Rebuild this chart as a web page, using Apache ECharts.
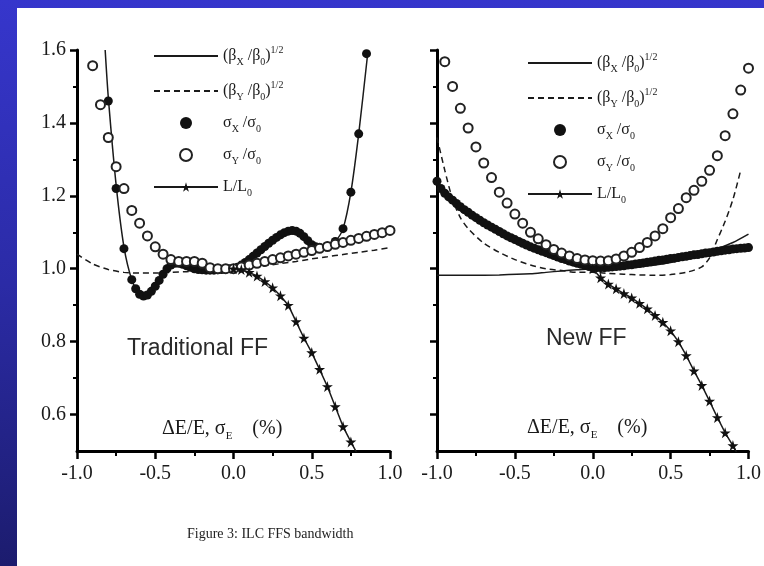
<!DOCTYPE html>
<html>
<head>
<meta charset="utf-8">
<script src="https://cdn.jsdelivr.net/npm/echarts@6/dist/echarts.min.js"></script>
<style>
html, body { margin: 0; padding: 0; width: 764px; height: 566px; overflow: hidden; }
#frame { position: absolute; left: 0; top: 0; width: 764px; height: 566px;
  background: linear-gradient(to bottom, #3636cc 0%, #2b2ba6 50%, #1c1c6e 100%); }
#sheet { position: absolute; left: 17px; top: 8px; width: 747px; height: 558px; background: #fff; }
#chart { position: absolute; left: 0; top: 0; width: 764px; height: 566px; }
</style>
</head>
<body>
<div id="frame"></div>
<div id="sheet"></div>
<div id="chart"></div>
<script>
// ---- axis ticks ----
const xMajorTicks = [-1.0, -0.5, 0.0, 0.5, 1.0];
const yMajorTicks = [0.6, 0.8, 1.0, 1.2, 1.4, 1.6];
const yMinorTicks = [0.7, 0.9, 1.1, 1.3, 1.5];

// ---- Traditional FF ----
const tradBxX = [-0.82, -0.80, -0.75, -0.70, -0.65, -0.60, -0.55, -0.50, -0.45, -0.40, -0.35, -0.30, -0.20, -0.10, 0.00, 0.10, 0.20, 0.30, 0.35, 0.40, 0.45, 0.50, 0.55, 0.60, 0.65, 0.70, 0.75, 0.80, 0.86];
const tradBxY = [1.60, 1.47, 1.23, 1.06, 0.97, 0.93, 0.928, 0.952, 0.985, 1.01, 1.015, 1.008, 0.997, 0.997, 1.0, 1.025, 1.061, 1.093, 1.103, 1.103, 1.088, 1.066, 1.058, 1.062, 1.075, 1.11, 1.21, 1.37, 1.60];

const tradByX = [-1.0, -0.9, -0.8, -0.7, -0.6, -0.5, -0.4, -0.3, -0.2, -0.1, 0.0, 0.1, 0.2, 0.3, 0.4, 0.5, 0.6, 0.7, 0.8, 0.9, 1.0];
const tradByY = [1.04, 1.013, 0.998, 0.99, 0.988, 0.988, 0.99, 0.992, 0.995, 0.998, 1.0, 1.004, 1.008, 1.014, 1.02, 1.027, 1.033, 1.039, 1.045, 1.051, 1.058];

const tradSxX = [-0.80, -0.75, -0.70, -0.65,
  -0.625, -0.600, -0.575, -0.550, -0.525, -0.500, -0.475, -0.450, -0.425, -0.400,
  -0.375, -0.350, -0.325, -0.300, -0.275, -0.250, -0.225, -0.200, -0.175, -0.150,
  -0.125, -0.100, -0.075, -0.050, -0.025, 0.000, 0.025, 0.050, 0.075, 0.100,
  0.125, 0.150, 0.175, 0.200, 0.225, 0.250, 0.275, 0.300, 0.325, 0.350,
  0.375, 0.400, 0.425, 0.450, 0.475, 0.500, 0.525, 0.550,
  0.60, 0.65, 0.70, 0.75, 0.80, 0.85];
const tradSxY = [1.46, 1.22, 1.055, 0.97,
  0.945, 0.93, 0.925, 0.928, 0.938, 0.952, 0.968, 0.985, 1.0, 1.01,
  1.015, 1.015, 1.012, 1.008, 1.004, 1.0, 0.998, 0.997, 0.996, 0.996,
  0.996, 0.997, 0.998, 0.999, 1.0, 1.0, 1.004, 1.01, 1.017, 1.025,
  1.034, 1.043, 1.052, 1.061, 1.07, 1.078, 1.086, 1.093, 1.099, 1.103,
  1.105, 1.103, 1.097, 1.088, 1.077, 1.066, 1.06, 1.058,
  1.062, 1.075, 1.11, 1.21, 1.37, 1.59];

const tradSyX = [-0.90, -0.85, -0.80, -0.75, -0.70, -0.65, -0.60, -0.55, -0.50, -0.45,
  -0.40, -0.35, -0.30, -0.25, -0.20, -0.15, -0.10, -0.05, 0.00, 0.05,
  0.10, 0.15, 0.20, 0.25, 0.30, 0.35, 0.40, 0.45, 0.50, 0.55,
  0.60, 0.65, 0.70, 0.75, 0.80, 0.85, 0.90, 0.95, 1.00];
const tradSyY = [1.557, 1.45, 1.36, 1.28, 1.22, 1.16, 1.125, 1.09, 1.06, 1.04,
  1.025, 1.02, 1.02, 1.02, 1.015, 1.003, 1.0, 1.0, 1.0, 1.005,
  1.01, 1.015, 1.02, 1.025, 1.03, 1.035, 1.04, 1.045, 1.05, 1.056,
  1.061, 1.067, 1.072, 1.078, 1.083, 1.089, 1.094, 1.099, 1.105];

const tradLumX = [0.00, 0.05, 0.10, 0.15, 0.20, 0.25, 0.30, 0.35, 0.40, 0.45, 0.50, 0.55, 0.60, 0.65, 0.70, 0.75, 0.80, 0.85];
const tradLumY = [1.0, 0.998, 0.99, 0.98, 0.965, 0.948, 0.926, 0.9, 0.855, 0.81, 0.77, 0.724, 0.677, 0.622, 0.567, 0.525, 0.485, 0.44];

// ---- New FF ----
const newBxX = [-1.0, -0.8, -0.6, -0.4, -0.3, -0.2, -0.1, 0.0, 0.1, 0.2, 0.3, 0.4, 0.5, 0.6, 0.7, 0.8, 0.9, 1.0];
const newBxY = [0.982, 0.982, 0.983, 0.986, 0.99, 0.994, 0.997, 1.0, 1.0, 1.002, 1.005, 1.01, 1.017, 1.027, 1.04, 1.055, 1.072, 1.095];

const newByX = [-1.0, -0.95, -0.9, -0.85, -0.8, -0.7, -0.6, -0.5, -0.4, -0.3, -0.2, -0.1, 0.0, 0.1, 0.2, 0.3, 0.4, 0.5, 0.6, 0.7, 0.75, 0.8, 0.85, 0.9, 0.95];
const newByY = [1.36, 1.27, 1.19, 1.14, 1.11, 1.07, 1.045, 1.025, 1.01, 1.0, 0.995, 0.99, 0.99, 0.987, 0.985, 0.983, 0.982, 0.984, 0.99, 1.005, 1.03, 1.08, 1.13, 1.19, 1.27];

const newSxX = [-1.000, -0.975, -0.950, -0.925, -0.900, -0.875, -0.850, -0.825, -0.800, -0.775,
  -0.750, -0.725, -0.700, -0.675, -0.650, -0.625, -0.600, -0.575, -0.550, -0.525,
  -0.500, -0.475, -0.450, -0.425, -0.400, -0.375, -0.350, -0.325, -0.300, -0.275,
  -0.250, -0.225, -0.200, -0.175, -0.150, -0.125, -0.100, -0.075, -0.050, -0.025,
  0.000, 0.025, 0.050, 0.075, 0.100, 0.125, 0.150, 0.175, 0.200, 0.225,
  0.250, 0.275, 0.300, 0.325, 0.350, 0.375, 0.400, 0.425, 0.450, 0.475,
  0.500, 0.525, 0.550, 0.575, 0.600, 0.625, 0.650, 0.675, 0.700, 0.725,
  0.750, 0.775, 0.800, 0.825, 0.850, 0.875, 0.900, 0.925, 0.950, 0.975, 1.000];
const newSxY = [1.24, 1.22, 1.207, 1.197, 1.188, 1.179, 1.17, 1.162, 1.155, 1.147,
  1.14, 1.133, 1.126, 1.12, 1.114, 1.108, 1.102, 1.096, 1.09, 1.085,
  1.08, 1.075, 1.07, 1.065, 1.06, 1.056, 1.052, 1.048, 1.044, 1.04,
  1.036, 1.032, 1.028, 1.025, 1.021, 1.018, 1.015, 1.012, 1.009, 1.006,
  1.004, 1.003, 1.003, 1.003, 1.004, 1.005, 1.006, 1.007, 1.008, 1.01,
  1.011, 1.013, 1.014, 1.016, 1.018, 1.019, 1.021, 1.023, 1.024, 1.026,
  1.028, 1.029, 1.031, 1.033, 1.034, 1.036, 1.038, 1.039, 1.041, 1.043,
  1.044, 1.046, 1.048, 1.049, 1.051, 1.052, 1.054, 1.055, 1.056, 1.057, 1.058];

const newSyX = [-0.95, -0.90, -0.85, -0.80, -0.75, -0.70, -0.65, -0.60, -0.55, -0.50,
  -0.45, -0.40, -0.35, -0.30, -0.25, -0.20, -0.15, -0.10, -0.05, 0.00,
  0.05, 0.10, 0.15, 0.20, 0.25, 0.30, 0.35, 0.40, 0.45, 0.50,
  0.55, 0.60, 0.65, 0.70, 0.75, 0.80, 0.85, 0.90, 0.95, 1.00];
const newSyY = [1.568, 1.50, 1.44, 1.386, 1.334, 1.29, 1.25, 1.21, 1.18, 1.15,
  1.125, 1.10, 1.082, 1.066, 1.053, 1.043, 1.035, 1.028, 1.024, 1.022,
  1.021, 1.022, 1.027, 1.035, 1.045, 1.058, 1.072, 1.09, 1.11, 1.14,
  1.165, 1.195, 1.215, 1.24, 1.27, 1.31, 1.365, 1.425, 1.49, 1.55];

const newLumX = [0.00, 0.05, 0.10, 0.15, 0.20, 0.25, 0.30, 0.35, 0.40, 0.45, 0.50, 0.55, 0.60, 0.65, 0.70, 0.75, 0.80, 0.85, 0.90, 0.95];
const newLumY = [1.0, 0.975, 0.958, 0.945, 0.932, 0.92, 0.905, 0.89, 0.872, 0.853, 0.83, 0.8, 0.762, 0.72, 0.68, 0.637, 0.592, 0.55, 0.515, 0.475];

// ---- legend entries ----
const seriesKeys = ['betaX', 'betaY', 'sigmaX', 'sigmaY', 'lumi'];
const legendLabels = {
  betaX: '{t|(β}{s|X}{t| /β}{s|0}{t|)}{u|1/2}',
  betaY: '{t|(β}{s|Y}{t| /β}{s|0}{t|)}{u|1/2}',
  sigmaX: '{t|σ}{s|X}{t| /σ}{s|0}',
  sigmaY: '{t|σ}{s|Y}{t| /σ}{s|0}',
  lumi: '{t|L/L}{s|0}'
};

const SERIF = '"Liberation Serif", "DejaVu Serif", serif';
const INK = '#1a1a1a';
const CLEAR = 'rgba(0,0,0,0)';
const starPath = 'path://M50,0 L61,35 L98,35 L68,57 L79,91 L50,70 L21,91 L32,57 L2,35 L39,35 Z';

const richText = {
  t: { fontFamily: SERIF, fontSize: 16, color: INK, lineHeight: 22 },
  s: { fontFamily: SERIF, fontSize: 10, color: INK, lineHeight: 10, verticalAlign: 'bottom' },
  u: { fontFamily: SERIF, fontSize: 10, color: INK, lineHeight: 10, verticalAlign: 'top' }
};

function zip(xs, ys) { return xs.map((x, i) => [x, ys[i]]); }

function panelSeries(gi, d) {
  const ax = { xAxisIndex: gi, yAxisIndex: gi * 2 };
  return [
    // plain curves: the transparent item colour keeps the legend swatch a bare line
    Object.assign({ name: 'betaX', type: 'line', data: zip(d.bxX, d.bxY), symbol: 'none', smooth: 0.25,
      lineStyle: { color: INK, width: 1.5 }, itemStyle: { color: CLEAR, borderWidth: 0 }, z: 2 }, ax),
    Object.assign({ name: 'betaY', type: 'line', data: zip(d.byX, d.byY), symbol: 'none', smooth: 0.25,
      lineStyle: { color: INK, width: 1.5, type: [6, 4] }, itemStyle: { color: CLEAR, borderWidth: 0 }, z: 2 }, ax),
    Object.assign({ name: 'sigmaX', type: 'scatter', data: zip(d.sxX, d.sxY), symbol: 'circle', symbolSize: 9,
      itemStyle: { color: '#111', opacity: 1 }, z: 3 }, ax),
    Object.assign({ name: 'sigmaY', type: 'scatter', data: zip(d.syX, d.syY), symbol: 'circle', symbolSize: 9,
      itemStyle: { color: '#fff', borderColor: '#222', borderWidth: 2, opacity: 1 }, z: 4 }, ax),
    Object.assign({ name: 'lumi', type: 'line', data: zip(d.lmX, d.lmY), symbol: starPath, symbolSize: 11,
      showAllSymbol: true, lineStyle: { color: INK, width: 1.5 }, itemStyle: { color: '#111' }, z: 5 }, ax)
  ];
}

function xAxisFor(gi) {
  return {
    gridIndex: gi, type: 'value', min: -1, max: 1, interval: 0.5,
    axisLine: { onZero: false, lineStyle: { color: '#000', width: 3 } },
    axisTick: { length: 8, lineStyle: { color: '#000', width: 2.5 } },
    minorTick: { show: true, splitNumber: 2, length: 5, lineStyle: { color: '#000', width: 2 } },
    splitLine: { show: false },
    axisLabel: { fontFamily: SERIF, fontSize: 20, color: INK, margin: 13,
      formatter: v => v.toFixed(1) }
  };
}

function yAxesFor(gi, withLabels) {
  return [
    {
      gridIndex: gi, type: 'value', min: 0.5, max: 1.6, position: 'left',
      axisLine: { onZero: false, lineStyle: { color: '#000', width: 3 } },
      axisTick: { length: 7, customValues: yMajorTicks, lineStyle: { color: '#000', width: 2.5 } },
      splitLine: { show: false },
      axisLabel: { show: withLabels, customValues: yMajorTicks, fontFamily: SERIF, fontSize: 20,
        color: INK, margin: 11, formatter: v => v.toFixed(1) }
    },
    {
      gridIndex: gi, type: 'value', min: 0.5, max: 1.6, position: 'left',
      axisLine: { show: false, onZero: false },
      axisTick: { length: 4, customValues: yMinorTicks, lineStyle: { color: '#000', width: 2 } },
      splitLine: { show: false },
      axisLabel: { show: false }
    }
  ];
}

function legendFor(left, top) {
  return {
    left: left, top: top, orient: 'vertical', itemWidth: 64, itemHeight: 12, itemGap: 13,
    selectedMode: false, data: seriesKeys,
    formatter: n => legendLabels[n],
    textStyle: { rich: richText }
  };
}

const axisTitle = '{t|ΔE/E, σ}{s|E}{t|    (%)}';
const axisTitleRich = {
  t: { fontFamily: SERIF, fontSize: 20, fill: INK, lineHeight: 26 },
  s: { fontFamily: SERIF, fontSize: 11, fill: INK, lineHeight: 11, verticalAlign: 'bottom' }
};

const chart = echarts.init(document.getElementById('chart'), null, { renderer: 'canvas' });
chart.setOption({
  backgroundColor: 'transparent',
  animation: false,
  grid: [
    { left: 77, top: 50, width: 313, height: 401 },
    { left: 437, top: 50, width: 312, height: 401 }
  ],
  xAxis: [xAxisFor(0), xAxisFor(1)],
  yAxis: yAxesFor(0, true).concat(yAxesFor(1, false)),
  legend: [legendFor(148, 40), legendFor(522, 47)],
  series: panelSeries(0, {
    bxX: tradBxX, bxY: tradBxY, byX: tradByX, byY: tradByY,
    sxX: tradSxX, sxY: tradSxY, syX: tradSyX, syY: tradSyY, lmX: tradLumX, lmY: tradLumY
  }).concat(panelSeries(1, {
    bxX: newBxX, bxY: newBxY, byX: newByX, byY: newByY,
    sxX: newSxX, sxY: newSxY, syX: newSyX, syY: newSyY, lmX: newLumX, lmY: newLumY
  })),
  graphic: [
    { type: 'text', left: 127, top: 337, z: 10,
      style: { text: 'Traditional FF', font: '23px "Liberation Sans", Arial, sans-serif', fill: '#2a2a2a' } },
    { type: 'text', left: 546, top: 327, z: 10,
      style: { text: 'New FF', font: '23px "Liberation Sans", Arial, sans-serif', fill: '#2a2a2a' } },
    { type: 'text', left: 162, top: 419, z: 10,
      style: { text: axisTitle, rich: axisTitleRich } },
    { type: 'text', left: 527, top: 418, z: 10,
      style: { text: axisTitle, rich: axisTitleRich } },
    { type: 'text', left: 187, top: 527, z: 10,
      style: { text: 'Figure 3: ILC FFS bandwidth', font: '14px "Liberation Serif", serif', fill: '#222' } }
  ]
});
</script>
</body>
</html>
